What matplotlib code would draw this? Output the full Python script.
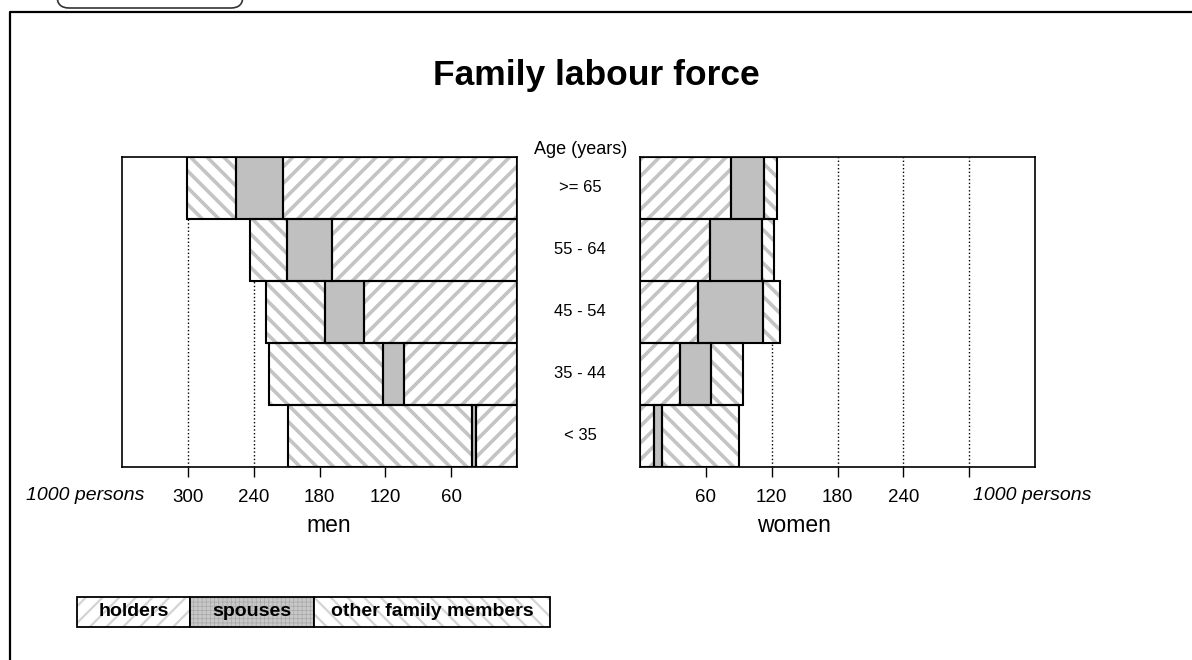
import numpy as np
import matplotlib
matplotlib.use('Agg')
import matplotlib.pyplot as plt
import matplotlib.transforms as mtransforms
from matplotlib.patches import Rectangle, FancyBboxPatch

plt.rcParams['font.family'] = ['Liberation Sans', 'DejaVu Sans']
plt.rcParams['hatch.linewidth'] = 2.6

# age groups, bottom to top
ages = ['< 35', '35 - 44', '45 - 54', '55 - 64', '>= 65']

# 1000 persons
men_holders = [37, 103, 139, 169, 213]
men_spouses = [4, 19, 36, 41, 43]
men_other = [168, 104, 54, 33, 45]

women_holders = [12.5, 36, 53, 64, 83]
women_spouses = [8, 29, 59.5, 47.5, 30]
women_other = [70, 29, 15, 11, 11.5]

ticks = [60, 120, 180, 240, 300]
men_ticklabels = ['60', '120', '180', '240', '300']
women_ticklabels = ['60', '120', '180', '240', '']
series = ['holders', 'spouses', 'other family members']

W, H = 1192, 660
fig = plt.figure(figsize=(W / 100, H / 100), dpi=100)


def px_axes(x0, y0, x1, y1, **kw):
    return fig.add_axes([x0 / W, 1 - y1 / H, (x1 - x0) / W, (y1 - y0) / H], **kw)


def ptext(x, y, s, **kw):
    kw.setdefault('ha', 'center')
    kw.setdefault('va', 'center')
    fig.text(x / W, 1 - y / H, s, **kw)


hatch_col = '#c4c4c4'
spouse_col = '#c0c0c0'
styles = [('//', 'white'), (None, spouse_col), ('\\\\', 'white')]

# background layer: outer frame, tab and legend
ov = px_axes(0, 0, W, H, zorder=-1)
ov.set_xlim(0, W)
ov.set_ylim(H, 0)
ov.axis('off')
ov.plot([9.5, 9.5, W], [H, 11.5, 11.5], color='black', lw=1.6, solid_capstyle='butt')
ov.add_patch(FancyBboxPatch((57, -40), 186, 48, boxstyle='round,pad=0,rounding_size=12',
                            fc='white', ec='#333333', lw=1.2))


def draw(ax, parts, xlim):
    y = np.arange(len(ages))
    left = np.zeros(len(ages))
    for vals, (hatch, fc) in zip(parts, styles):
        vals = np.array(vals, dtype=float)
        ax.barh(y, vals, left=left, height=1, color=fc, hatch=hatch,
                edgecolor=hatch_col if hatch else fc, linewidth=0, zorder=2)
        ax.barh(y, vals, left=left, height=1, fill=False,
                edgecolor='black', linewidth=1.5, zorder=3)
        left += vals
    ax.set_ylim(-0.5, len(ages) - 0.5)
    ax.set_xlim(*xlim)
    ax.set_xticks(ticks)
    ax.set_yticks([])
    ax.set_axisbelow(True)
    ax.grid(axis='x', linestyle=':', color='black', linewidth=1.0)
    ax.tick_params(axis='x', direction='out', length=7, width=1, pad=9, labelsize=13.5)
    for sp in ax.spines.values():
        sp.set_linewidth(1.2)


ax_m = px_axes(122, 157, 517, 467)
draw(ax_m, [men_holders, men_spouses, men_other], (360, 0))
ax_m.set_xticklabels(men_ticklabels)

ax_w = px_axes(640, 157, 1035, 467)
draw(ax_w, [women_holders, women_spouses, women_other], (0, 360))
ax_w.set_xticklabels(women_ticklabels)

# texts
ptext(596, 76, 'Family labour force', fontsize=25.5, fontweight='bold')
ptext(581, 149, 'Age (years)', fontsize=13)
trans = mtransforms.blended_transform_factory(fig.transFigure, ax_m.transData)
for i, a in enumerate(ages):
    ax_m.text(580 / W, i, a, transform=trans, ha='center', va='center', fontsize=12)

ptext(85, 495, '1000 persons', fontsize=14, style='italic')
ptext(1032, 495, '1000 persons', fontsize=14, style='italic')
ptext(329, 525, 'men', fontsize=16.5)
ptext(794, 525, 'women', fontsize=16.5)

# legend
leg_x = [77, 190, 314, 550]
leg_hatch = ['//', '++++', '\\\\']
leg_fc = ['white', '#c8c8c8', 'white']
leg_hc = ['#d4d4d4', '#a8a8a8', '#d4d4d4']
for i, name in enumerate(series):
    x0, x1 = leg_x[i], leg_x[i + 1]
    lw_h = 1.6 if i != 1 else 0.5
    with plt.rc_context({'hatch.linewidth': lw_h}):
        p = Rectangle((x0, 597), x1 - x0, 30, fc=leg_fc[i], hatch=leg_hatch[i],
                      ec=leg_hc[i], lw=0)
        if hasattr(p, 'set_hatch_linewidth'):
            p.set_hatch_linewidth(lw_h)
    ov.add_patch(p)
    ov.add_patch(Rectangle((x0, 597), x1 - x0, 30, fill=False, ec='black', lw=1.3))
    ov.text((x0 + x1) / 2, 612, name, ha='center', va='center', fontsize=14,
            fontweight='bold')

fig.savefig('out.png', dpi=100)
